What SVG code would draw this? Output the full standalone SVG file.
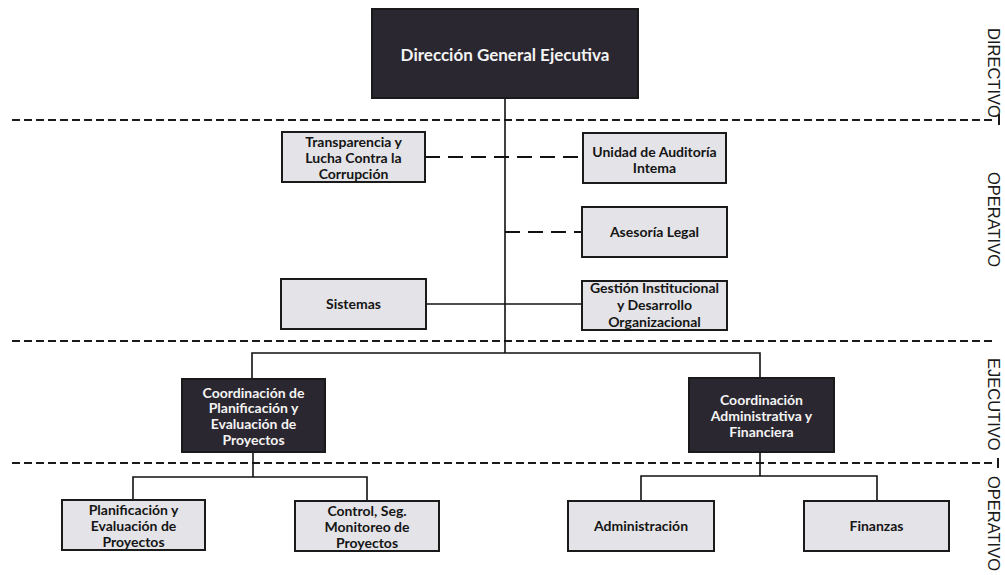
<svg xmlns="http://www.w3.org/2000/svg" width="1005" height="575" viewBox="0 0 1005 575">
<style>
.sep{stroke:#1a1a1a;stroke-width:2;stroke-dasharray:8 4;fill:none}
.tick{stroke:#1a1a1a;stroke-width:2}
.ln{stroke:#111;stroke-width:1.6;fill:none}
.dl{stroke:#111;stroke-width:2;stroke-dasharray:15 8;fill:none}
.lb{fill:#e4e4e8;stroke:#1a1a1a;stroke-width:2}
.db{fill:#2b2730;stroke:#1a1a1a;stroke-width:2}
.t{font-family:Lato,"Open Sans","Liberation Sans",sans-serif;font-weight:bold;font-size:14px;text-anchor:middle;fill:#151515}
.w{fill:#f4f4f4}
.side{font-family:"Liberation Sans",Arial,sans-serif;font-size:16.5px;fill:#1a1a1a}
</style>
<rect width="1005" height="575" fill="#ffffff"/>
<g id="separators">
<line class="sep" x1="12" y1="120" x2="994" y2="120"/>
<line class="sep" x1="12" y1="341" x2="994" y2="341"/>
<line class="sep" x1="12" y1="463" x2="994" y2="463"/>
<line class="tick" x1="999" y1="114" x2="999" y2="125"/>
<line class="tick" x1="998" y1="458" x2="998" y2="468"/>
</g>
<g id="levels">
<text class="side" transform="translate(988,28) rotate(90)">DIRECTIVO</text>
<text class="side" transform="translate(988,172) rotate(90)">OPERATIVO</text>
<text class="side" transform="translate(988,358) rotate(90)">EJECUTIVO</text>
<text class="side" transform="translate(988,476) rotate(90)">OPERATIVO</text>
</g>
<g id="connectors">
<line class="ln" x1="505" y1="98" x2="505" y2="353"/>
<line class="dl" x1="425" y1="157" x2="583" y2="157"/>
<line class="dl" x1="505" y1="232" x2="582" y2="232"/>
<line class="ln" x1="426" y1="304" x2="582" y2="304"/>
<polyline class="ln" points="252,379 252,353 760,353 760,378"/>
<line class="ln" x1="253" y1="452" x2="253" y2="477"/>
<polyline class="ln" points="133,500 133,477 367,477 367,501"/>
<line class="ln" x1="760" y1="452" x2="760" y2="476"/>
<polyline class="ln" points="641,501 641,476 877,476 877,501"/>
</g>
<g id="n-direccion">
<rect class="db" x="372" y="9" width="266" height="89"/>
<text class="t w" x="505" y="61" style="font-size:17px">Dirección General Ejecutiva</text>
</g>
<g id="n-transparencia">
<rect class="lb" x="282" y="132" width="143" height="50"/>
<text class="t" x="353.5" y="146.5">Transparencia y</text>
<text class="t" x="353.5" y="163">Lucha Contra la</text>
<text class="t" x="353.5" y="179">Corrupción</text>
</g>
<g id="n-auditoria">
<rect class="lb" x="583" y="133" width="143" height="50"/>
<text class="t" x="654.5" y="156.5">Unidad de Auditoría</text>
<text class="t" x="654.5" y="172.5">Intema</text>
</g>
<g id="n-asesoria">
<rect class="lb" x="582" y="207" width="145" height="50"/>
<text class="t" x="654.5" y="237">Asesoría Legal</text>
</g>
<g id="n-sistemas">
<rect class="lb" x="281" y="279" width="145" height="50"/>
<text class="t" x="353.5" y="309">Sistemas</text>
</g>
<g id="n-gestion">
<rect class="lb" x="582" y="281" width="145" height="49"/>
<text class="t" x="654.5" y="292.5">Gestión Institucional</text>
<text class="t" x="654.5" y="310">y Desarrollo</text>
<text class="t" x="654.5" y="327">Organizacional</text>
</g>
<g id="n-coord-planif">
<rect class="db" x="182" y="379" width="143" height="73"/>
<text class="t w" x="253.5" y="397.5">Coordinación de</text>
<text class="t w" x="253.5" y="413">Planificación y</text>
<text class="t w" x="253.5" y="428.5">Evaluación de</text>
<text class="t w" x="253.5" y="444.5">Proyectos</text>
</g>
<g id="n-coord-admin">
<rect class="db" x="689" y="378" width="145" height="74"/>
<text class="t w" x="761.5" y="404.5">Coordinación</text>
<text class="t w" x="761.5" y="420.5">Administrativa y</text>
<text class="t w" x="761.5" y="436.5">Financiera</text>
</g>
<g id="n-planif">
<rect class="lb" x="62" y="500" width="143" height="50"/>
<text class="t" x="133.5" y="514.5">Planificación y</text>
<text class="t" x="133.5" y="531">Evaluación de</text>
<text class="t" x="133.5" y="547">Proyectos</text>
</g>
<g id="n-control">
<rect class="lb" x="295" y="501" width="144" height="50"/>
<text class="t" x="367" y="515.5">Control, Seg.</text>
<text class="t" x="367" y="532">Monitoreo de</text>
<text class="t" x="367" y="548">Proyectos</text>
</g>
<g id="n-administracion">
<rect class="lb" x="568" y="501" width="146" height="50"/>
<text class="t" x="641" y="531">Administración</text>
</g>
<g id="n-finanzas">
<rect class="lb" x="804" y="501" width="145" height="50"/>
<text class="t" x="876.5" y="531">Finanzas</text>
</g>
</svg>
